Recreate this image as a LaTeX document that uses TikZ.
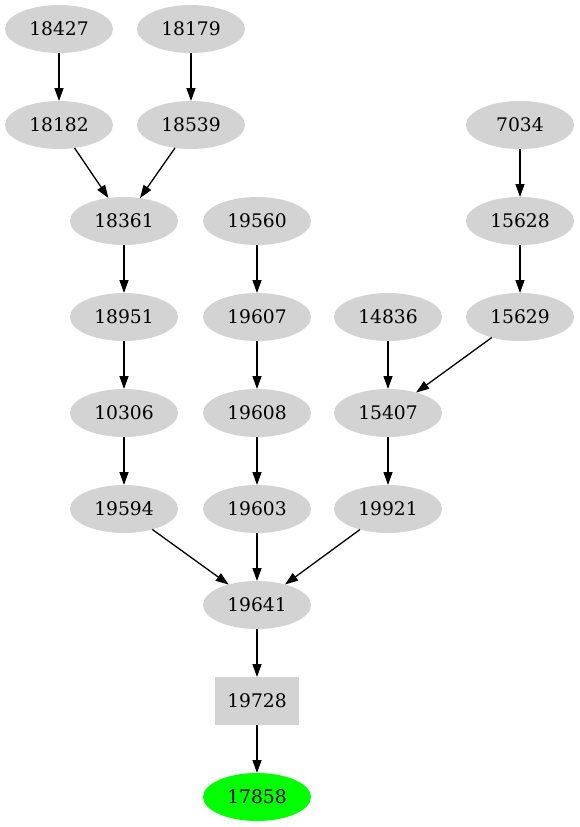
\documentclass[tikz,border=0pt]{standalone}
\usepackage{fontspec}
\setmainfont{DejaVu Serif}
\usetikzlibrary{arrows.meta, shapes.geometric}
\definecolor{jobgray}{HTML}{D3D3D3}
\definecolor{jobgreen}{HTML}{00FF00}

\begin{document}
\begin{tikzpicture}[x = 1pt, y = -1pt,
		job/.style = {ellipse, fill = jobgray, minimum width = 108pt, minimum height = 48pt,
			inner sep = 0pt, outer sep = 0pt, font = \fontsize{18.7}{22}\selectfont},
		boxjob/.style = {job, rectangle, minimum width = 84pt},
		endjob/.style = {job, fill = jobgreen},
		dep/.style = {-{Triangle[length = 13pt, width = 9pt]}, line width = 1.3pt}]
		\useasboundingbox (0, 0) rectangle (579, 827);
		%%%%%%%%%%%%%
		\node [job] (n18427) at (59, 29) {18427};
		\node [job] (n18179) at (191, 29) {18179};
		\node [job] (n18182) at (59, 125) {18182};
		\node [job] (n18539) at (191, 125) {18539};
		\node [job] (n7034) at (520, 125) {7034};
		\node [job] (n18361) at (124, 221) {18361};
		\node [job] (n19560) at (257, 221) {19560};
		\node [job] (n15628) at (520, 221) {15628};
		\node [job] (n18951) at (124, 317) {18951};
		\node [job] (n19607) at (257, 317) {19607};
		\node [job] (n14836) at (388, 317) {14836};
		\node [job] (n15629) at (520, 317) {15629};
		\node [job] (n10306) at (124, 413) {10306};
		\node [job] (n19608) at (257, 413) {19608};
		\node [job] (n15407) at (388, 413) {15407};
		\node [job] (n19594) at (124, 509) {19594};
		\node [job] (n19603) at (257, 509) {19603};
		\node [job] (n19921) at (388, 509) {19921};
		\node [job] (n19641) at (257, 605) {19641};
		\node [boxjob] (n19728) at (257, 701) {19728};
		\node [endjob] (n17858) at (257, 797) {17858};
		%%%%%%%%%%%%%
		\draw [dep] (n18427) to (n18182); \draw [dep] (n18179) to (n18539);
		\draw [dep] (n18182) to (n18361); \draw [dep] (n18539) to (n18361);
		\draw [dep] (n18361) to (n18951); \draw [dep] (n18951) to (n10306);
		\draw [dep] (n10306) to (n19594); \draw [dep] (n19594) to (n19641);
		\draw [dep] (n19560) to (n19607); \draw [dep] (n19607) to (n19608);
		\draw [dep] (n19608) to (n19603); \draw [dep] (n19603) to (n19641);
		\draw [dep] (n7034) to (n15628); \draw [dep] (n15628) to (n15629);
		\draw [dep] (n15629) to (n15407); \draw [dep] (n14836) to (n15407);
		\draw [dep] (n15407) to (n19921); \draw [dep] (n19921) to (n19641);
		\draw [dep] (n19641) to (n19728); \draw [dep] (n19728) to (n17858);
\end{tikzpicture}
\end{document}
